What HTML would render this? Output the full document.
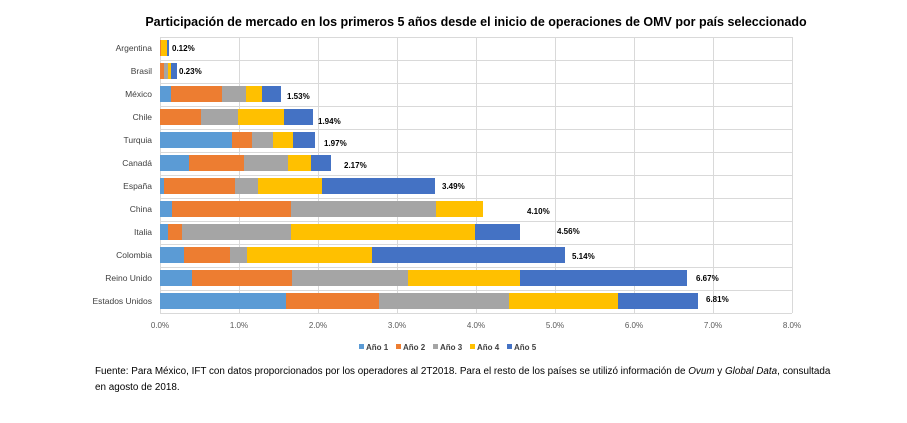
<!DOCTYPE html>
<html><head><meta charset="utf-8"><style>
body{margin:0;background:#fff;}
svg{display:block;font-family:"Liberation Sans",sans-serif;}
</style></head><body>
<svg width="907" height="423" viewBox="0 0 907 423" xmlns="http://www.w3.org/2000/svg">
<text x="476" y="26" text-anchor="middle" font-size="12.5" font-weight="bold" fill="#000">Participación de mercado en los primeros 5 años desde el inicio de operaciones de OMV por país seleccionado</text>
<g stroke="#d9d9d9" stroke-width="1">
<line x1="160.5" y1="37" x2="160.5" y2="313"/><line x1="239.5" y1="37" x2="239.5" y2="313"/><line x1="318.5" y1="37" x2="318.5" y2="313"/><line x1="397.5" y1="37" x2="397.5" y2="313"/><line x1="476.5" y1="37" x2="476.5" y2="313"/><line x1="555.5" y1="37" x2="555.5" y2="313"/><line x1="634.5" y1="37" x2="634.5" y2="313"/><line x1="713.5" y1="37" x2="713.5" y2="313"/><line x1="792.5" y1="37" x2="792.5" y2="313"/>
<line x1="160" y1="37.5" x2="792" y2="37.5"/><line x1="160" y1="60.5" x2="792" y2="60.5"/><line x1="160" y1="83.5" x2="792" y2="83.5"/><line x1="160" y1="106.5" x2="792" y2="106.5"/><line x1="160" y1="129.5" x2="792" y2="129.5"/><line x1="160" y1="152.5" x2="792" y2="152.5"/><line x1="160" y1="175.5" x2="792" y2="175.5"/><line x1="160" y1="198.5" x2="792" y2="198.5"/><line x1="160" y1="221.5" x2="792" y2="221.5"/><line x1="160" y1="244.5" x2="792" y2="244.5"/><line x1="160" y1="267.5" x2="792" y2="267.5"/><line x1="160" y1="290.5" x2="792" y2="290.5"/><line x1="160" y1="313.5" x2="792" y2="313.5"/>
</g>
<g font-size="8.5" fill="#404040" text-anchor="end">
<text x="152" y="51">Argentina</text><text x="152" y="74">Brasil</text><text x="152" y="97">México</text><text x="152" y="120">Chile</text><text x="152" y="143">Turquia</text><text x="152" y="166">Canadá</text><text x="152" y="189">España</text><text x="152" y="212">China</text><text x="152" y="235">Italia</text><text x="152" y="258">Colombia</text><text x="152" y="281">Reino Unido</text><text x="152" y="304">Estados Unidos</text>
</g>
<g>
<rect x="160" y="40" width="1" height="16" fill="#ed7d31"/><rect x="161" y="40" width="6" height="16" fill="#ffc000"/><rect x="167" y="40" width="2" height="16" fill="#4472c4"/>
<rect x="160" y="63" width="4" height="16" fill="#ed7d31"/><rect x="164" y="63" width="4" height="16" fill="#a5a5a5"/><rect x="168" y="63" width="3" height="16" fill="#ffc000"/><rect x="171" y="63" width="6" height="16" fill="#4472c4"/>
<rect x="160" y="86" width="11" height="16" fill="#5b9bd5"/><rect x="171" y="86" width="51" height="16" fill="#ed7d31"/><rect x="222" y="86" width="24" height="16" fill="#a5a5a5"/><rect x="246" y="86" width="16" height="16" fill="#ffc000"/><rect x="262" y="86" width="19" height="16" fill="#4472c4"/>
<rect x="160" y="109" width="41" height="16" fill="#ed7d31"/><rect x="201" y="109" width="37" height="16" fill="#a5a5a5"/><rect x="238" y="109" width="46" height="16" fill="#ffc000"/><rect x="284" y="109" width="29" height="16" fill="#4472c4"/>
<rect x="160" y="132" width="72" height="16" fill="#5b9bd5"/><rect x="232" y="132" width="20" height="16" fill="#ed7d31"/><rect x="252" y="132" width="21" height="16" fill="#a5a5a5"/><rect x="273" y="132" width="20" height="16" fill="#ffc000"/><rect x="293" y="132" width="22" height="16" fill="#4472c4"/>
<rect x="160" y="155" width="29" height="16" fill="#5b9bd5"/><rect x="189" y="155" width="55" height="16" fill="#ed7d31"/><rect x="244" y="155" width="44" height="16" fill="#a5a5a5"/><rect x="288" y="155" width="23" height="16" fill="#ffc000"/><rect x="311" y="155" width="20" height="16" fill="#4472c4"/>
<rect x="160" y="178" width="4" height="16" fill="#5b9bd5"/><rect x="164" y="178" width="71" height="16" fill="#ed7d31"/><rect x="235" y="178" width="23" height="16" fill="#a5a5a5"/><rect x="258" y="178" width="64" height="16" fill="#ffc000"/><rect x="322" y="178" width="113" height="16" fill="#4472c4"/>
<rect x="160" y="201" width="12" height="16" fill="#5b9bd5"/><rect x="172" y="201" width="119" height="16" fill="#ed7d31"/><rect x="291" y="201" width="145" height="16" fill="#a5a5a5"/><rect x="436" y="201" width="47" height="16" fill="#ffc000"/>
<rect x="160" y="224" width="8" height="16" fill="#5b9bd5"/><rect x="168" y="224" width="14" height="16" fill="#ed7d31"/><rect x="182" y="224" width="109" height="16" fill="#a5a5a5"/><rect x="291" y="224" width="184" height="16" fill="#ffc000"/><rect x="475" y="224" width="45" height="16" fill="#4472c4"/>
<rect x="160" y="247" width="24" height="16" fill="#5b9bd5"/><rect x="184" y="247" width="46" height="16" fill="#ed7d31"/><rect x="230" y="247" width="17" height="16" fill="#a5a5a5"/><rect x="247" y="247" width="125" height="16" fill="#ffc000"/><rect x="372" y="247" width="193" height="16" fill="#4472c4"/>
<rect x="160" y="270" width="32" height="16" fill="#5b9bd5"/><rect x="192" y="270" width="100" height="16" fill="#ed7d31"/><rect x="292" y="270" width="116" height="16" fill="#a5a5a5"/><rect x="408" y="270" width="112" height="16" fill="#ffc000"/><rect x="520" y="270" width="167" height="16" fill="#4472c4"/>
<rect x="160" y="293" width="126" height="16" fill="#5b9bd5"/><rect x="286" y="293" width="93" height="16" fill="#ed7d31"/><rect x="379" y="293" width="130" height="16" fill="#a5a5a5"/><rect x="509" y="293" width="109" height="16" fill="#ffc000"/><rect x="618" y="293" width="80" height="16" fill="#4472c4"/>
</g>
<g font-size="8" font-weight="bold" fill="#000">
<text x="172" y="51">0.12%</text><text x="179" y="74">0.23%</text><text x="287" y="99">1.53%</text><text x="318" y="124">1.94%</text><text x="324" y="146">1.97%</text><text x="344" y="168">2.17%</text><text x="442" y="189">3.49%</text><text x="527" y="214">4.10%</text><text x="557" y="234">4.56%</text><text x="572" y="259">5.14%</text><text x="696" y="281">6.67%</text><text x="706" y="302">6.81%</text>
</g>
<g font-size="8" fill="#595959" text-anchor="middle">
<text x="160" y="328">0.0%</text><text x="239" y="328">1.0%</text><text x="318" y="328">2.0%</text><text x="397" y="328">3.0%</text><text x="476" y="328">4.0%</text><text x="555" y="328">5.0%</text><text x="634" y="328">6.0%</text><text x="713" y="328">7.0%</text><text x="792" y="328">8.0%</text>
</g>
<g font-size="8" font-weight="bold" fill="#404040">
<rect x="359" y="344" width="5" height="5" fill="#5b9bd5"/><text x="366" y="350">Año 1</text>
<rect x="396" y="344" width="5" height="5" fill="#ed7d31"/><text x="403" y="350">Año 2</text>
<rect x="433" y="344" width="5" height="5" fill="#a5a5a5"/><text x="440" y="350">Año 3</text>
<rect x="470" y="344" width="5" height="5" fill="#ffc000"/><text x="477" y="350">Año 4</text>
<rect x="507" y="344" width="5" height="5" fill="#4472c4"/><text x="514" y="350">Año 5</text>
</g>
<g font-size="9.9" fill="#000">
<text x="95" y="374">Fuente: Para México, IFT con datos proporcionados por los operadores al 2T2018. Para el resto de los países se utilizó información de <tspan font-style="italic">Ovum</tspan> y <tspan font-style="italic">Global Data</tspan>, consultada</text>
<text x="95" y="390">en agosto de 2018.</text>
</g>
</svg>
</body></html>
